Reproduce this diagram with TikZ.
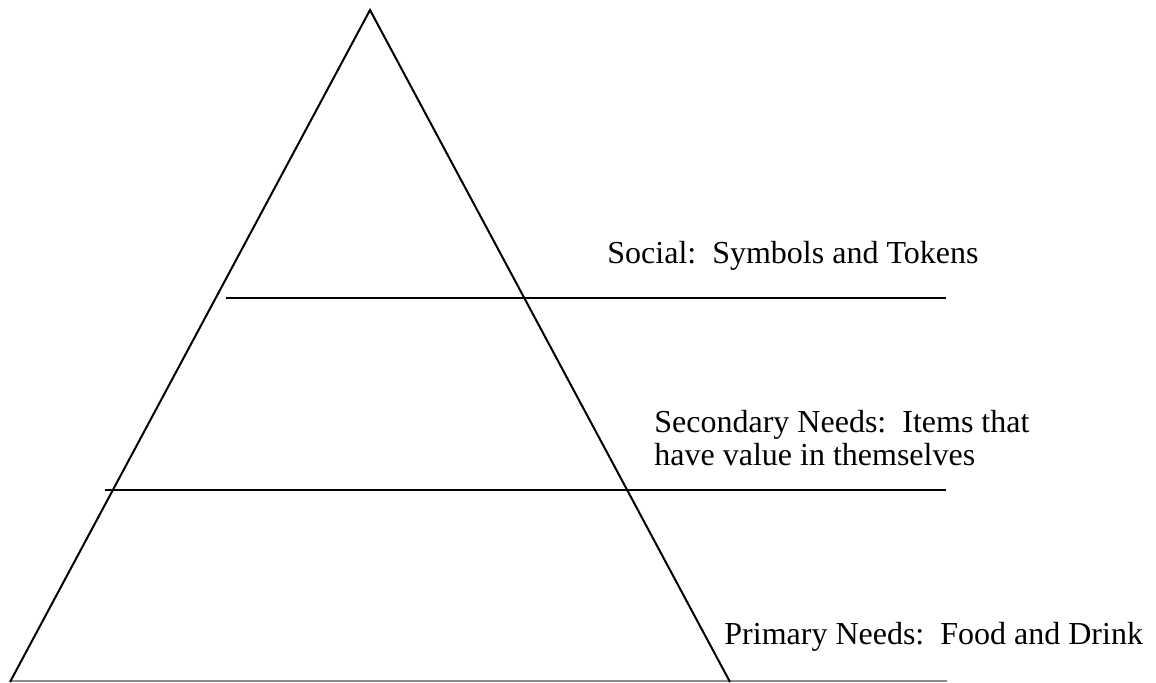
\documentclass[tikz,border=0pt]{standalone}
\usepackage{fontspec}
\setmainfont{Liberation Serif}
\begin{document}
\begin{tikzpicture}[x=0.5pt,y=-0.5pt,
  edge/.style={line width=1pt,black},
  baseedge/.style={line width=1pt,black!45},
  label/.style={inner sep=0pt,anchor=base west,align=left,
    font=\fontsize{16}{16.5}\selectfont}]
\useasboundingbox (0,0) rectangle (1156,682);
\coordinate (apex) at (370,10);
\coordinate (bl) at (10,682);
\coordinate (br) at (730,682);
\coordinate (b0) at (10,681);
\coordinate (b1) at (947,681);
\coordinate (s0) at (226,298);
\coordinate (s1) at (946,298);
\coordinate (m0) at (105,490);
\coordinate (m1) at (946,490);
\draw[baseedge] (b0) -- (b1);
\draw[edge] (bl) -- (apex) -- (br);
\draw[edge] (s0) -- (s1);
\draw[edge] (m0) -- (m1);
\node[label] (social) at (607,263) {Social:\ \ Symbols and Tokens};
\node[label] (secondary) at (654,465) {Secondary Needs:\ \ Items that\\have value in themselves};
\node[label] (primary) at (724,644) {Primary Needs:\ \ Food and Drink};
\end{tikzpicture}
\end{document}
